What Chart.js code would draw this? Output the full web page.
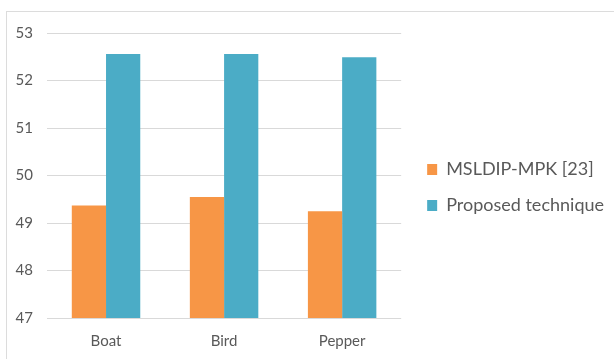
<!DOCTYPE html>
<html>
<head>
<meta charset="utf-8">
<script src="https://cdn.jsdelivr.net/npm/chart.js@4.4.1/dist/chart.umd.min.js"></script>
<style>
  html, body { margin: 0; padding: 0; background: #ffffff; }
  body { width: 614px; height: 359px; overflow: hidden; position: relative; }
  #frame {
    position: absolute; left: 6px; top: 11px; right: -4px; bottom: -4px;
    border-left: 1.5px solid #dcdcdc; border-top: 1.5px solid #dcdcdc;
  }
  #wrap { position: absolute; left: 0; top: 0; width: 614px; height: 359px; }
</style>
</head>
<body>
<div id="frame"></div>
<div id="wrap"><canvas id="chart" width="614" height="359"></canvas></div>
<script>
// Image names on the category axis
const categories = ['Boat', 'Bird', 'Pepper'];

// Series names
const seriesNames = ['MSLDIP-MPK [23]', 'Proposed technique'];

// Scores per image for each method
const mslDipValues = [49.37, 49.55, 49.25];
const proposedValues = [52.56, 52.56, 52.49];

// Value axis range and step
const yMin = 47;
const yMax = 53;
const yStep = 1;

const textColor = '#595959';
const gridColor = '#d9d9d9';

Chart.defaults.font.family = 'Lato, "Open Sans", sans-serif';

// Empty spacer axes used only to reserve room around the plot area
const spacer = (pos, size) => ({
  type: 'linear',
  position: pos,
  display: true,
  grid: { display: false, drawTicks: false },
  border: { display: false },
  ticks: { display: false },
  afterFit: (scale) => {
    if (pos === 'top' || pos === 'bottom') { scale.height = size; } else { scale.width = size; }
  }
});

new Chart(document.getElementById('chart'), {
  type: 'bar',
  data: {
    labels: categories,
    datasets: [
      {
        label: seriesNames[0],
        data: mslDipValues,
        backgroundColor: '#F79646',
        borderWidth: 0,
        categoryPercentage: 0.58,
        barPercentage: 1.0
      },
      {
        label: seriesNames[1],
        data: proposedValues,
        backgroundColor: '#4BACC6',
        borderWidth: 0,
        categoryPercentage: 0.58,
        barPercentage: 1.0
      }
    ]
  },
  options: {
    responsive: false,
    animation: false,
    devicePixelRatio: 1,
    layout: { padding: { left: 0, right: 0, top: 16, bottom: 0 } },
    plugins: {
      tooltip: { enabled: false },
      legend: {
        position: 'right',
        align: 'center',
        maxWidth: 400,
        labels: {
          boxWidth: 10,
          boxHeight: 11,
          padding: 18,
          color: textColor,
          font: { size: 18, family: 'Lato, "Open Sans", sans-serif' }
        }
      }
    },
    scales: {
      x: {
        grid: { display: false, drawTicks: false },
        border: { display: false },
        ticks: {
          color: textColor,
          padding: 14,
          font: { size: 15 }
        },
        afterFit: (scale) => { scale.height = 41; }
      },
      y: {
        min: yMin,
        max: yMax,
        grid: { color: gridColor, lineWidth: 1, drawTicks: false },
        border: { display: false },
        ticks: {
          stepSize: yStep,
          color: textColor,
          padding: 14,
          font: { size: 15 }
        },
        afterFit: (scale) => { scale.width = 47; }
      },
      gapTop: spacer('top', 17),
      gapRight: spacer('right', 8)
    }
  }
});
</script>
</body>
</html>
